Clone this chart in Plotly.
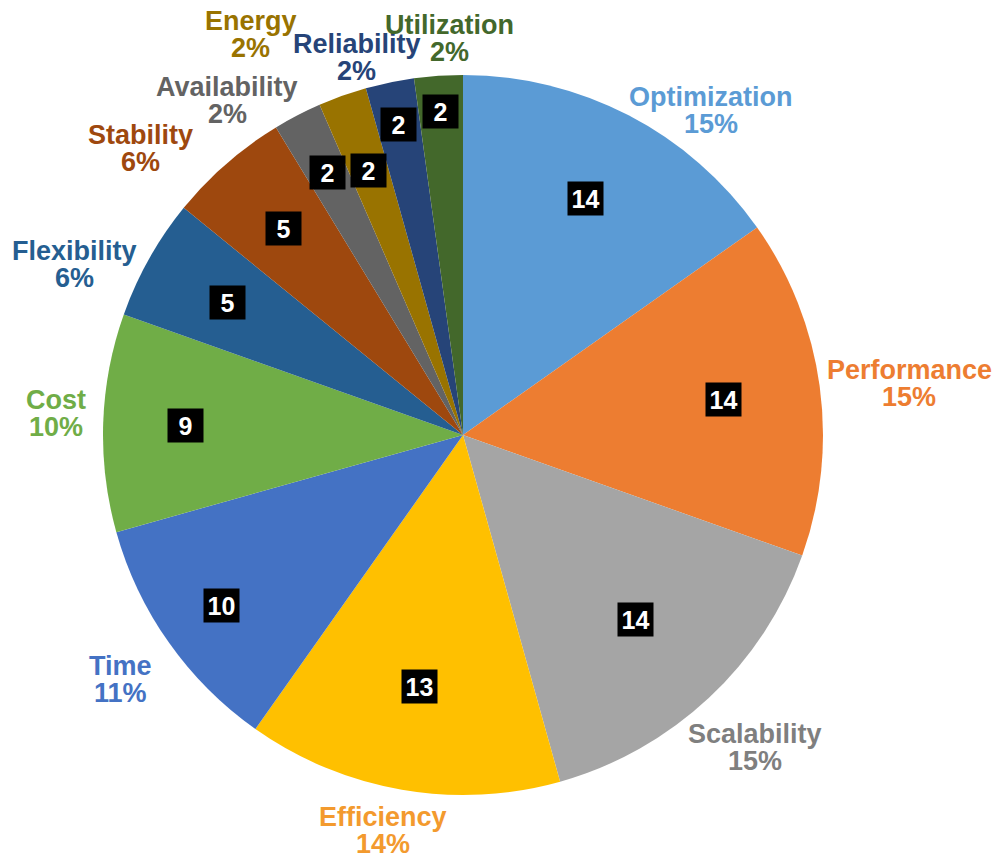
import numpy as np
import plotly.graph_objects as go

# ---- data ----
categories = ["Optimization", "Performance", "Scalability", "Efficiency", "Time", "Cost",
              "Flexibility", "Stability", "Availability", "Energy", "Reliability", "Utilization"]
values = [14, 14, 14, 13, 10, 9, 5, 5, 2, 2, 2, 2]
percent_labels = ["15%", "15%", "15%", "14%", "11%", "10%", "6%", "6%", "2%", "2%", "2%", "2%"]

# ---- styles ----
slice_colors = ["#5B9BD5", "#ED7D31", "#A5A5A5", "#FFC000", "#4472C4", "#70AD47",
                "#255E91", "#9E480E", "#636363", "#997300", "#264478", "#43682B"]
label_colors = ["#5B9BD5", "#ED7D31", "#7F7F7F", "#F39A2E", "#4472C4", "#70AD47",
                "#255E91", "#9E480E", "#636363", "#997300", "#264478", "#43682B"]
# outside label placement: angular shift (deg) from slice middle, distance (px)
label_shift = [10, 1.3, 0, 1.6, -0.3, 1.1, -5.6, -7.3, -7.8, -8.4, -4, 2]
label_dist = [408, 449, 428, 403, 421, 408, 424, 432, 409, 453, 392, 397]
# inside value-box distance as fraction of radius
inner_frac = [0.74, 0.73, 0.70, 0.71, 0.82, 0.77, 0.75, 0.76, 0.82, 0.78, 0.88, 0.90]

W, H = 1005, 858
CX, CY, R = 463, 435, 360
FONT = "Liberation Sans, Arial, sans-serif"

fig = go.Figure(go.Pie(
    labels=categories, values=values, sort=False, direction="clockwise", rotation=0,
    marker=dict(colors=slice_colors, line=dict(width=0)),
    textinfo="none", hoverinfo="label+value+percent", showlegend=False,
    domain=dict(x=[(CX - R) / W, (CX + R) / W], y=[1 - (CY + R) / H, 1 - (CY - R) / H]),
))

vals = np.array(values, dtype=float)
cum = np.cumsum(vals)
mid_deg = (cum - vals / 2) / vals.sum() * 360.0

def to_paper(ang_deg, dist):
    a = np.radians(ang_deg)
    px = CX + dist * np.sin(a)
    py = CY - dist * np.cos(a)
    return px / W, 1 - py / H

annotations = []
for i, cat in enumerate(categories):
    # inside value boxes
    x, y = to_paper(mid_deg[i], inner_frac[i] * R)
    annotations.append(dict(
        x=x, y=y, xref="paper", yref="paper", xanchor="center", yanchor="middle",
        text=f"<b>{values[i]}</b>", showarrow=False,
        font=dict(family=FONT, size=25, color="white"),
        bgcolor="black", width=35, height=33, borderpad=0, align="center", valign="middle",
    ))
    # outside category labels (two lines)
    ang = mid_deg[i] + label_shift[i]
    x, y = to_paper(ang, label_dist[i])
    for text, dy in ((cat, 13.5), (percent_labels[i], -13.5)):
        annotations.append(dict(
            x=x, y=y + dy / H, xref="paper", yref="paper", xanchor="center", yanchor="middle",
            text=f"<b>{text}</b>", showarrow=False,
            font=dict(family=FONT, size=27, color=label_colors[i]),
        ))

fig.update_layout(
    width=W, height=H, margin=dict(l=0, r=0, t=0, b=0),
    paper_bgcolor="white", plot_bgcolor="white",
    annotations=annotations,
)

fig.write_html("out.html", config={"displayModeBar": False},
               post_script="document.body.style.margin='0';document.body.style.overflow='hidden';")
